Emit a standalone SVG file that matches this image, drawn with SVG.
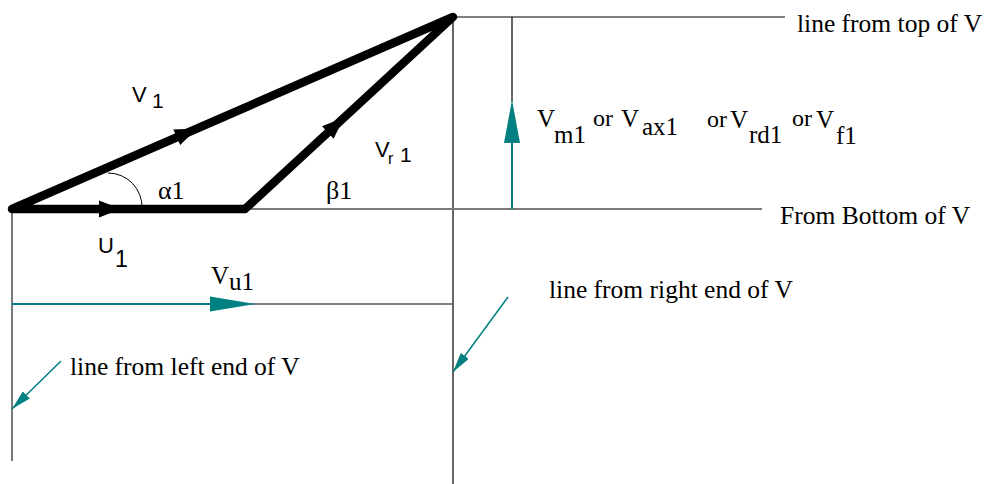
<svg xmlns="http://www.w3.org/2000/svg" width="988" height="484" viewBox="0 0 988 484">
  <style>
    .thick { stroke: #000; stroke-width: 8.5; fill: none; stroke-linecap: round; stroke-linejoin: round; }
    .thin { stroke: #000; stroke-width: 1.2; fill: none; }
    .gray { stroke: #7a7a7a; stroke-width: 2; fill: none; }
    .teal { stroke: #008080; stroke-width: 2; fill: none; }
    .tealthin { stroke: #008080; stroke-width: 1.5; fill: none; }
    .tealfill { fill: #008080; stroke: none; }
    .serif { font-family: "Liberation Serif", "Times New Roman", serif; fill: #000; }
    .sans { font-family: "Liberation Sans", Arial, sans-serif; fill: #000; }
    .label { font-size: 25.5px; }
    .sym { font-size: 25px; }
    .or { font-size: 24px; }
  </style>
  <defs>
    <path id="thickHead" d="M0,0 L-22,-8.5 L-22,8.5 Z" fill="#000"/>
    <marker id="tealArrow" markerUnits="userSpaceOnUse" viewBox="0 0 20 10" markerWidth="20" markerHeight="10" refX="20" refY="5" orient="auto">
      <path d="M0,0 L20,5 L0,10 Z" fill="#008080"/>
    </marker>
  </defs>
  <rect width="988" height="484" fill="#fff"/>

  <g id="connectors">
    <!-- reference lines -->
    <line class="thin" x1="453" y1="17" x2="785" y2="17"/>
    <line class="thin" x1="453" y1="17" x2="453" y2="484"/>
    <line class="gray" x1="245" y1="209" x2="762" y2="209"/>
    <line class="gray" x1="12" y1="209" x2="12" y2="461"/>
    <!-- Vm1 -->
    <line class="thin" x1="512" y1="17" x2="512" y2="102"/>
    <line class="teal" x1="512" y1="140" x2="512" y2="209"/>
    <polygon class="tealfill" points="504,143 512,100 520,143"/>
    <!-- Vu1 -->
    <line class="gray" x1="250" y1="304" x2="453" y2="304" style="stroke-width:1.5;stroke:#555"/>
    <line class="teal" x1="12" y1="304" x2="212" y2="304"/>
    <polygon class="tealfill" points="210,296.5 255,304 210,311.5"/>
    <!-- pointer arrows -->
    <line class="tealthin" x1="61" y1="361" x2="12" y2="409" marker-end="url(#tealArrow)"/>
    <line class="tealthin" x1="508" y1="297" x2="453" y2="372" marker-end="url(#tealArrow)"/>
    <!-- velocity triangle -->
    <polyline class="thick" points="245,209 12,209 453,17 245,209"/>
    <use href="#thickHead" transform="translate(121,209)"/>
    <use href="#thickHead" transform="translate(197,128.5) rotate(-23.53)"/>
    <use href="#thickHead" transform="translate(344,117.6) rotate(-42.71)"/>
    <!-- alpha arc -->
    <path d="M108,173 A34,34 0 0 1 142,208" fill="none" stroke="#000" stroke-width="1"/>
  </g>

  <g id="label-V1">
    <text class="sans" x="132" y="102" font-size="22">V</text>
    <text class="sans" x="152" y="108" font-size="21">1</text>
  </g>
  <g id="label-Vr1">
    <text class="sans" x="375" y="157" font-size="22">V</text>
    <text class="sans" x="388" y="164" font-size="16">r</text>
    <text class="sans" x="400" y="162" font-size="21">1</text>
  </g>
  <g id="label-U1">
    <text class="sans" x="98" y="253" font-size="22">U</text>
    <text class="sans" x="115" y="267" font-size="23">1</text>
  </g>
  <g id="label-alpha">
    <text class="serif" x="158" y="199" font-size="26">α1</text>
  </g>
  <g id="label-beta">
    <text class="serif" x="326" y="199" font-size="26">β1</text>
  </g>
  <g id="label-Vu1">
    <text class="serif sym" x="211" y="284">V</text>
    <text class="serif sym" x="229" y="290">u1</text>
  </g>
  <g id="label-Vm1">
    <text class="serif sym" x="537" y="127">V</text>
    <text class="serif sym" x="554" y="143">m1</text>
    <text class="serif or" x="593" y="126">or</text>
    <text class="serif sym" x="621" y="127">V</text>
    <text class="serif sym" x="642" y="135">ax1</text>
    <text class="serif or" x="707" y="127">or</text>
    <text class="serif sym" x="730" y="128">V</text>
    <text class="serif sym" x="749" y="143">rd1</text>
    <text class="serif or" x="792" y="126">or</text>
    <text class="serif sym" x="816" y="128">V</text>
    <text class="serif sym" x="836" y="144">f1</text>
  </g>
  <g id="label-top">
    <text class="serif label" x="797" y="32">line from top of V</text>
  </g>
  <g id="label-bottom">
    <text class="serif label" x="780" y="224">From Bottom of V</text>
  </g>
  <g id="label-right">
    <text class="serif label" x="549" y="298">line from right end of V</text>
  </g>
  <g id="label-left">
    <text class="serif label" x="70" y="375">line from left end of V</text>
  </g>
</svg>
